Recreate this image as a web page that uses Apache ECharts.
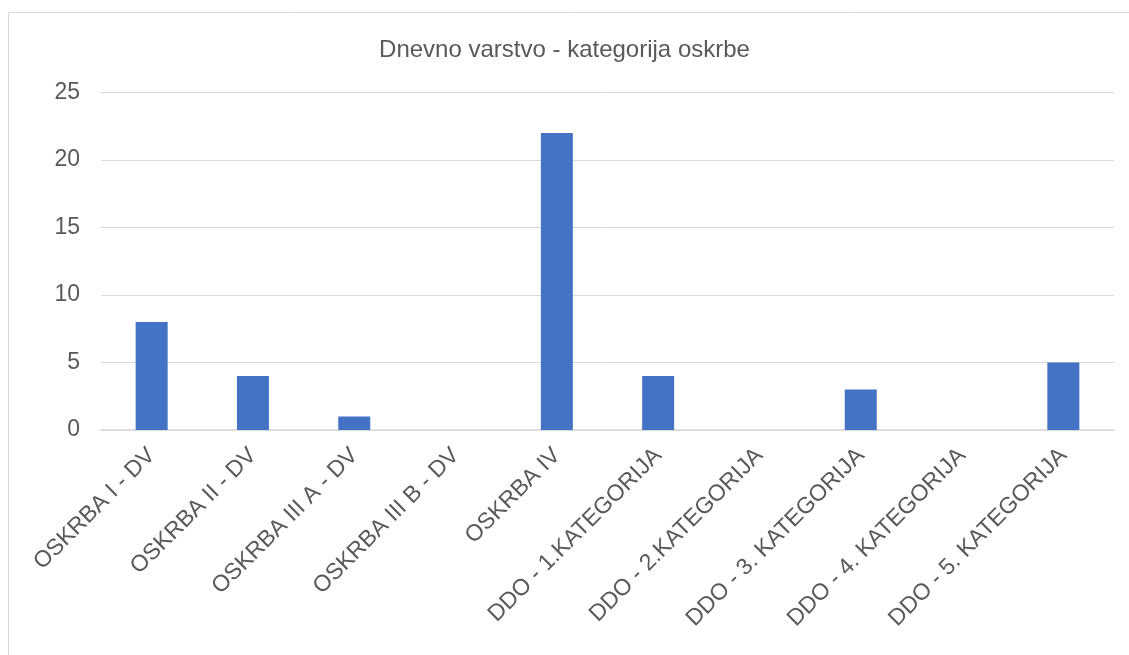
<!DOCTYPE html>
<html><head><meta charset="utf-8">
<script src="https://cdn.jsdelivr.net/npm/echarts@6/dist/echarts.min.js"></script>
<style>html,body{margin:0;padding:0;background:#fff}#c{width:1129px;height:655px}</style>
</head><body><div id="c"></div>
<script>
const categories = ['OSKRBA I - DV','OSKRBA II - DV','OSKRBA III A - DV','OSKRBA III B - DV','OSKRBA IV','DDO - 1.KATEGORIJA','DDO - 2.KATEGORIJA','DDO - 3. KATEGORIJA','DDO - 4. KATEGORIJA','DDO - 5. KATEGORIJA'];
const values = [8,4,1,0,22,4,0,3,0,5];
const titleText = 'Dnevno varstvo - kategorija oskrbe';
const chart = echarts.init(document.getElementById('c'));
chart.setOption({
  animation:false,
  textStyle:{fontFamily:'Liberation Sans, Arial, sans-serif'},
  graphic:[{type:'rect',shape:{x:8.5,y:12.5,width:1200,height:700},style:{fill:'none',stroke:'#d9d9d9',lineWidth:1},silent:true}],
  title:{text:titleText,left:'center',top:33,textStyle:{fontSize:24,fontWeight:'normal',color:'#595959',fontFamily:'Liberation Sans, Arial, sans-serif'}},
  grid:{left:101,right:15,top:92.5,height:337.5,containLabel:false},
  xAxis:{type:'category',data:categories,
    axisLine:{lineStyle:{color:'#d9d9d9',width:1.5}},axisTick:{show:false},
    axisLabel:{rotate:45,interval:0,fontSize:23,color:'#595959',margin:22}},
  yAxis:{type:'value',min:0,max:25,interval:5,
    axisLine:{show:false},axisTick:{show:false},
    splitLine:{lineStyle:{color:'#d9d9d9',width:1}},
    axisLabel:{fontSize:23,color:'#595959',margin:21}},
  series:[{type:'bar',data:values,barWidth:32,itemStyle:{color:'#4472c4'}}]
});
</script></body></html>
